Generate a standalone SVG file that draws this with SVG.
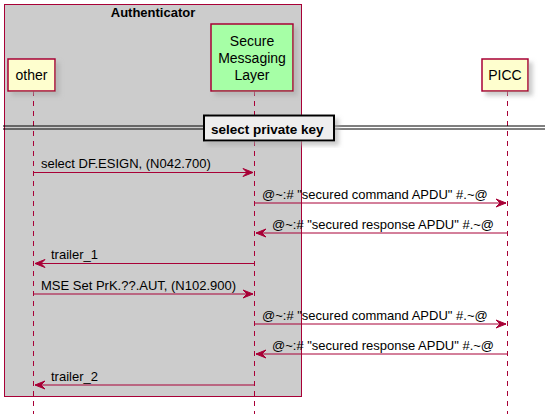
<svg xmlns="http://www.w3.org/2000/svg" width="548" height="414" viewBox="0 0 548 414">
<style>
text{font-family:"Liberation Sans",Arial,sans-serif;fill:#000}
.msg{font-size:13px}
.part{font-size:14px;text-anchor:middle}
.bold{font-weight:bold;font-size:13px}
.life{stroke:#A80036;stroke-width:1;stroke-dasharray:5,5;fill:none}
.arr{stroke:#A80036;stroke-width:1;fill:none}
.head{fill:#A80036;stroke:#A80036;stroke-width:1}
.pbox{fill:#FEFECE;stroke:#A80036;stroke-width:1.5}
</style>
<defs>
<filter id="sh" x="-20%" y="-20%" width="150%" height="150%">
<feGaussianBlur in="SourceAlpha" stdDeviation="2"/>
<feOffset dx="4" dy="4" result="b"/>
<feColorMatrix in="b" type="matrix" values="0 0 0 0 0.4  0 0 0 0 0.4  0 0 0 0 0.4  0 0 0 0.6 0" result="c"/>
<feMerge><feMergeNode in="c"/><feMergeNode in="SourceGraphic"/></feMerge>
</filter>
</defs>
<rect width="548" height="414" fill="#FFFFFF"/>
<g id="box-authenticator">
<rect x="4.5" y="4.5" width="297" height="392" fill="#CCCCCC" stroke="#A80036" stroke-width="1"/>
<text x="153" y="17" class="bold" text-anchor="middle">Authenticator</text>
</g>
<g id="lifelines">
<line class="life" x1="33.5" y1="91" x2="33.5" y2="414"/>
<line class="life" x1="254.5" y1="91" x2="254.5" y2="414"/>
<line class="life" x1="507.5" y1="91" x2="507.5" y2="414"/>
</g>
<g id="other">
<rect class="pbox" x="8" y="59" width="47" height="32" filter="url(#sh)"/>
<text class="part" x="31.5" y="80">other</text>
</g>
<g id="sml">
<rect x="211" y="24" width="82" height="67" fill="#A6FFA6" stroke="#A80036" stroke-width="1.5" filter="url(#sh)"/>
<text class="part" x="252" y="46">Secure</text>
<text class="part" x="252" y="63">Messaging</text>
<text class="part" x="252" y="80">Layer</text>
</g>
<g id="picc">
<rect class="pbox" x="482" y="59" width="46" height="32" filter="url(#sh)"/>
<text class="part" x="505" y="80">PICC</text>
</g>
<g id="divider">
<line x1="3" y1="126" x2="545" y2="126" stroke="#000" stroke-width="1"/>
<line x1="3" y1="129" x2="545" y2="129" stroke="#000" stroke-width="1"/>
<rect x="204" y="115.5" width="130" height="25" fill="#EEEEEE" stroke="#000" stroke-width="2" filter="url(#sh)"/>
<text x="211" y="134" style="font-weight:bold;font-size:13.5px">select private key</text>
</g>
<g id="connectors">
<line class="arr" x1="33.5" y1="172.5" x2="253" y2="172.5"/>
<polygon class="head" points="243,168.5 253,172.5 243,176.5 247,172.5"/>
<text class="msg" x="41" y="168">select DF.ESIGN, (N042.700)</text>

<line class="arr" x1="254.5" y1="203" x2="506" y2="203"/>
<polygon class="head" points="496,199 506,203 496,207 500,203"/>
<text class="msg" x="262" y="198.5">@~:# "secured command APDU" #.~@</text>

<line class="arr" x1="507.5" y1="233" x2="256" y2="233"/>
<polygon class="head" points="266,229 256,233 266,237 262,233"/>
<text class="msg" x="272" y="228.5">@~:# "secured response APDU" #.~@</text>

<line class="arr" x1="254.5" y1="263.5" x2="35" y2="263.5"/>
<polygon class="head" points="45,259.5 35,263.5 45,267.5 41,263.5"/>
<text class="msg" x="51" y="259">trailer_1</text>

<line class="arr" x1="33.5" y1="294" x2="253" y2="294"/>
<polygon class="head" points="243,290 253,294 243,298 247,294"/>
<text class="msg" x="41" y="289.5">MSE Set PrK.??.AUT, (N102.900)</text>

<line class="arr" x1="254.5" y1="324" x2="506" y2="324"/>
<polygon class="head" points="496,320 506,324 496,328 500,324"/>
<text class="msg" x="262" y="319.5">@~:# "secured command APDU" #.~@</text>

<line class="arr" x1="507.5" y1="354" x2="256" y2="354"/>
<polygon class="head" points="266,350 256,354 266,358 262,354"/>
<text class="msg" x="272" y="349.5">@~:# "secured response APDU" #.~@</text>

<line class="arr" x1="254.5" y1="385" x2="35" y2="385"/>
<polygon class="head" points="45,381 35,385 45,389 41,385"/>
<text class="msg" x="51" y="380.5">trailer_2</text>
</g>
</svg>
